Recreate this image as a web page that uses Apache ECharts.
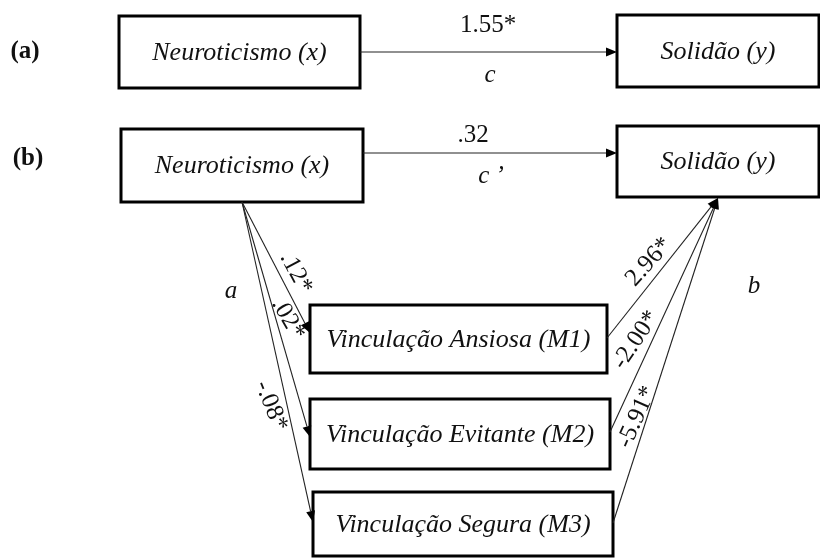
<!DOCTYPE html>
<html><head><meta charset="utf-8">
<script src="https://cdn.jsdelivr.net/npm/echarts@6/dist/echarts.min.js"></script>
<style>html,body{margin:0;padding:0;background:#fff}#c{width:820px;height:558px}</style>
</head><body><div id="c"></div>
<script>
// ---- content ----
const panelLabels = ['(a)', '(b)'];
const boxLabels = ['Neuroticismo (x)', 'Solidão (y)', 'Neuroticismo (x)', 'Solidão (y)',
  'Vinculação Ansiosa (M1)', 'Vinculação Evitante (M2)', 'Vinculação Segura (M3)'];
const totalEffect = ['1.55*'];
const directEffect = ['.32'];
const pathA = ['.12*', '.02*', '-.08*'];
const pathB = ['2.96*', '-2.00*', '-5.91*'];
const pathNames = ['c', 'c \u2019', 'a', 'b'];

// ---- layout (axis units of a 820 x 558 frame) ----
const boxRect = [[119,16,360,88],[617,15,819,87],[121,129,363,202],[617,126,819,197],
  [310,305,607,373],[310,399,610,469],[313,492,613,556]];
const edgeEnds = [[360,52,617,52],[363,153,617,153],
  [242,202,310,333],[242,202,310,437],[242,202,313,522],
  [607,338,718,198],[610,432,718,198],[613,523,718,198]];
// [x, y, rotation deg]
const panelPos = [[25,52],[28,159]];
const coefPos = [[488,25,0],[473,135,0],[296,273,-62],[288,319,-60],[271,406,-68],[649,262,48],[636,340,56],[637,417,66]];
const namePos = [[490,75],[491,176],[231,291],[754,286]];

const coefLabels = totalEffect.concat(directEffect, pathA, pathB);
const SERIF = '"Liberation Serif", "Times New Roman", serif';

const chart = echarts.init(document.getElementById('c'));

function textEl(api, x, y, text, font, rot) {
  const p = api.coord([x, y]);
  return {type: 'text', x: p[0], y: p[1], rotation: (rot || 0) * Math.PI / 180,
    style: {text: text, font: font, fill: '#111', align: 'center', verticalAlign: 'middle'}};
}

chart.setOption({
  animation: false,
  grid: {left: 0, right: 0, top: 0, bottom: 0},
  xAxis: {type: 'value', min: 0, max: 820, show: false},
  yAxis: {type: 'value', min: 0, max: 558, inverse: true, show: false},
  series: [
    { // boxes
      type: 'custom', coordinateSystem: 'cartesian2d', z: 2,
      data: boxRect.map(r => r.slice()),
      encode: {x: [0, 2], y: [1, 3]},
      renderItem: function (params, api) {
        const i = params.dataIndex;
        const p1 = api.coord([api.value(0), api.value(1)]);
        const p2 = api.coord([api.value(2), api.value(3)]);
        return {type: 'group', children: [
          {type: 'rect', shape: {x: p1[0], y: p1[1], width: p2[0] - p1[0], height: p2[1] - p1[1]},
           style: {fill: '#fff', stroke: '#000', lineWidth: 3}},
          {type: 'text', x: (p1[0] + p2[0]) / 2, y: (p1[1] + p2[1]) / 2 + 1,
           style: {text: boxLabels[i], font: 'italic 26px ' + SERIF, fill: '#111', align: 'center', verticalAlign: 'middle'}}
        ]};
      }
    },
    { // arrows
      type: 'custom', coordinateSystem: 'cartesian2d', z: 3,
      data: edgeEnds.map(e => e.slice()),
      encode: {x: [0, 2], y: [1, 3]},
      renderItem: function (params, api) {
        const a = api.coord([api.value(0), api.value(1)]);
        const b = api.coord([api.value(2), api.value(3)]);
        const dx = b[0] - a[0], dy = b[1] - a[1];
        const L = Math.sqrt(dx * dx + dy * dy);
        const ux = dx / L, uy = dy / L, nx = -uy, ny = ux;
        const hl = 11, hw = 4.5;
        const bx = b[0] - ux * hl, by = b[1] - uy * hl;
        return {type: 'group', children: [
          {type: 'line', shape: {x1: a[0], y1: a[1], x2: bx, y2: by}, style: {stroke: '#222', lineWidth: 1.1}},
          {type: 'polygon', shape: {points: [[b[0], b[1]], [bx + nx * hw, by + ny * hw], [bx - nx * hw, by - ny * hw]]},
           style: {fill: '#000'}}
        ]};
      }
    },
    { // coefficient labels
      type: 'custom', coordinateSystem: 'cartesian2d', z: 4,
      data: coefPos.map(p => [p[0], p[1]]),
      renderItem: function (params, api) {
        const i = params.dataIndex;
        return textEl(api, api.value(0), api.value(1), coefLabels[i], '25px ' + SERIF, coefPos[i][2]);
      }
    },
    { // path names
      type: 'custom', coordinateSystem: 'cartesian2d', z: 4,
      data: namePos.map(p => p.slice()),
      renderItem: function (params, api) {
        return textEl(api, api.value(0), api.value(1), pathNames[params.dataIndex], 'italic 25px ' + SERIF, 0);
      }
    },
    { // panel labels
      type: 'custom', coordinateSystem: 'cartesian2d', z: 4,
      data: panelPos.map(p => p.slice()),
      renderItem: function (params, api) {
        return textEl(api, api.value(0), api.value(1), panelLabels[params.dataIndex], 'bold 25px ' + SERIF, 0);
      }
    }
  ]
});
</script>
</body></html>
